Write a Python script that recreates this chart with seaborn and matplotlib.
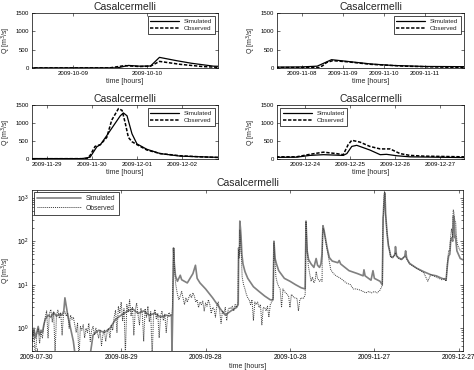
import numpy as np
import pandas as pd
import matplotlib
matplotlib.use("Agg")
import matplotlib.pyplot as plt
import matplotlib.dates as mdates
import seaborn as sns

# ---- data: discharge at Casalcermelli, day offset from 2009-07-30 00:00 ----
START = pd.Timestamp("2009-07-30")

sim_day = [
    -2, -1.5, -1, -0.5, 0, 0.5, 1, 1.5, 2, 2.5,
    3, 4, 5, 6, 7, 8, 9, 9.6, 10, 10.4,
    11, 12, 13, 13.6, 19, 20, 22, 24, 26, 28,
    30, 32, 34, 36, 38, 40, 42, 44, 46, 47,
    47.9, 48.05, 48.35, 48.6, 48.9, 49.3, 50, 51, 51.5, 53.5,
    55.5, 56.4, 57, 58, 60, 62.5, 65.4, 67, 69, 71,
    71.6, 71.75, 71.9, 72.05, 72.17, 72.4, 72.6, 72.9, 73.3, 74,
    75, 77, 79, 81, 83, 84.0, 84.3, 84.7, 85.2, 86,
    88, 90, 92, 94, 95.4, 95.7, 96.1, 96.6, 97.5, 98.5,
    99.3, 99.8, 100.5, 101.0, 101.37, 101.72, 102.1, 102.68, 103.2, 104,
    105, 107, 107.5, 108, 111, 114, 116, 116.3, 116.7, 118.8,
    119.5, 120, 122, 122.78, 122.96, 123.11, 123.19, 123.33, 123.52, 123.63,
    123.70, 123.78, 123.89, 124.0, 124.22, 124.52, 124.96, 125.41, 125.81, 126.5,
    127.3, 127.5, 127.9, 129.6, 130.8, 131.1, 131.5, 132.5, 135, 137.5,
    140, 142, 144, 145.5, 146.0, 146.4, 146.81, 147.11, 147.41, 147.63,
    147.85, 147.93, 148.04, 148.15, 148.44, 148.67, 148.81, 149.04, 149.33, 150.53,
    152,
]
sim_q = [
    0.9, 0.7, 1.0, 0.6, 0.8, 1.1, 0.7, 0.9, 0.8, 1.2,
    1.6, 2.0, 1.8, 2.3, 1.9, 2.1, 2.0, 2.5, 5.0, 3.5,
    2.0, 1.0, 0.5, 0.25, 0.25, 0.7, 0.9, 0.8, 1.0, 1.6,
    2.0, 2.4, 2.8, 2.2, 2.5, 2.0, 2.2, 1.8, 2.0, 1.9,
    2.0, 0.25, 3.0, 70, 30, 16, 12, 16.5, 13, 11,
    18, 28, 14, 11, 8, 5, 2.7, 2.0, 2.5, 3.0,
    3.5, 70, 50, 55, 290, 200, 130, 50, 30, 20,
    14, 9, 7, 5.5, 4.5, 4.5, 100, 40, 30, 21,
    14, 12, 10, 8.5, 8, 290, 60, 38, 30, 25,
    40, 28, 25, 30, 50, 227, 180, 110, 70, 42,
    35, 32, 36, 30, 21, 18, 16, 22, 16, 12.7,
    21, 14, 12, 10, 50, 340, 400, 650, 1000, 1200,
    1280, 1200, 700, 420, 270, 150, 80, 60, 45, 42,
    50, 75, 45, 38, 45, 60, 40, 31, 24, 20,
    17, 16, 14, 13, 30, 46, 50, 100, 120, 110,
    100, 150, 350, 380, 250, 120, 130, 90, 60, 40,
    36,
]

# observed, noisy low-flow part sampled every half day from day -2
obs_early_q = [
    0.8, 0.5, 0.9, 0.2, 0.7, 1.0, 0.45, 0.8, 0.6, 1.1,
    1.8, 2.5, 0.6, 2.2, 2.7, 1.4, 2.4, 0.25, 2.0, 2.6, 1.7, 2.3, 0.7, 2.1,
    2.4, 1.9, 2.2, 1.0, 2.0, 1.6, 1.8,
    1.2, 0.8, 1.3, 0.2, 1.1, 0.9, 1.2, 0.6, 1.0, 0.8, 1.3, 0.5, 0.9, 1.1, 0.7, 1.0,
    0.8, 0.6, 0.9, 0.4, 0.7, 0.9, 0.5, 0.8, 1.0, 0.6, 1.2, 0.9,
    1.8, 2.6, 0.8, 3.2, 2.2, 4.0, 1.5, 2.8, 0.25, 3.5,
    2.4, 4.5, 1.9, 3.0, 0.7, 2.6, 3.8, 2.0, 1.2, 2.9,
    2.2, 0.5, 2.8, 1.8, 3.2, 1.4, 2.4, 0.2, 2.0, 2.7, 1.6,
    2.2, 0.6, 1.9, 2.5, 1.5, 2.1, 0.8, 1.8, 2.3, 2.0,
]
obs_early_day = np.arange(len(obs_early_q)) * 0.5 - 2

obs_day = [
    48.0, 48.2, 48.5, 48.7, 49.0, 49.4, 50, 50.5, 51, 51.5,
    52, 52.5, 53, 53.5, 54, 54.5, 55, 55.5, 56, 56.5,
    57, 57.5, 58, 58.5, 59, 59.5, 60, 60.5, 61, 61.5,
    62, 62.5, 63, 63.5, 64, 64.5, 65, 65.5, 66, 66.5,
    67, 67.5, 68, 68.5, 69, 69.5, 70, 70.5, 71, 71.5,
    71.7, 71.9, 72.05, 72.17, 72.45, 72.75, 73, 73.5, 74, 74.5,
    75, 75.5, 76, 76.5, 77, 77.5, 78, 78.5, 79, 79.5,
    80, 80.5, 81, 81.5, 82, 82.5, 83, 83.5, 84, 84.3,
    84.6, 85, 85.5, 86, 86.5, 87, 87.5, 88, 88.5, 89,
    89.5, 90, 90.5, 91, 91.5, 92, 92.5, 93, 93.5, 94,
    94.5, 95, 95.4, 95.7, 96, 96.5, 97, 97.5, 98, 98.5,
    99, 99.3, 99.8, 100.5, 101, 101.4, 101.5, 101.6, 101.75, 102.1,
    102.68, 103.5, 104.5, 105.5, 106.4, 108, 110, 111.5, 112.5, 113.6,
    115, 116, 117, 118, 119, 120, 121, 122, 122.6, 122.89,
    122.96, 123.07, 123.19, 123.33, 123.44, 123.52, 123.59, 123.67, 123.74, 123.81,
    123.89, 124.0, 124.22, 124.52, 124.96, 125.41, 125.81, 127, 127.5, 128.5,
    129.6, 131, 132.5, 135, 137.5, 139, 140, 142, 144, 145,
    145.5, 146, 146.4, 146.81, 147.11, 147.41, 147.7, 147.85, 147.96, 148.04,
    148.22, 148.44, 148.67, 148.89, 149.11, 149.33, 149.63, 150.53, 152,
]
obs_q = [
    2.0, 3.0, 30, 70, 20, 10, 6, 4.5, 5.5, 7,
    5, 3.5, 5, 4, 5, 6, 5, 6.5, 5.5, 4,
    4.5, 3, 4, 3.5, 4.2, 2.5, 3.8, 3.2, 4.5, 3.5,
    2.2, 3, 2.8, 1.8, 3.3, 4, 2.5, 1.3, 2.5, 2.2,
    3, 1.5, 2.6, 3, 2.8, 3.2, 2.5, 3.5, 3, 4,
    65, 40, 50, 180, 100, 40, 15, 10, 8, 6,
    5, 4.5, 3.5, 4.5, 1.5, 4, 3.5, 4, 3, 3.5,
    1.2, 3, 3, 2.5, 3.2, 1.8, 3.5, 4, 5, 90,
    40, 15, 11, 9, 8, 3, 8, 7, 6.5, 6,
    5.5, 3, 6, 5.5, 5, 5, 4.8, 2.5, 4.5, 5,
    4.8, 5, 6, 280, 90, 28, 18, 12, 15, 11,
    13, 20, 14, 12, 13, 12, 60, 150, 200, 170,
    100, 50, 22, 18, 16, 14, 11, 10, 8, 8,
    7.5, 7, 6.5, 7, 6.5, 7, 6.5, 7.5, 9, 10,
    100, 350, 400, 600, 1080, 1250, 1400, 1350, 1000, 600,
    480, 400, 250, 150, 90, 60, 42, 45, 55, 40,
    38, 45, 30, 24, 19, 12, 17, 15, 13, 14,
    12, 35, 60, 60, 130, 190, 150, 120, 400, 520,
    470, 350, 280, 280, 150, 100, 80, 60, 55,
]

# zoom windows (day offsets) and their date ticks
zoom_windows = [
    (70.45, 72.96, ["2009-10-09", "2009-10-10"], "upper right"),
    (100.39, 104.95, ["2009-11-08", "2009-11-09", "2009-11-10", "2009-11-11"], "upper right"),
    (121.67, 125.80, ["2009-11-29", "2009-11-30", "2009-12-01", "2009-12-02"], "upper right"),
    (146.38, 150.53, ["2009-12-24", "2009-12-25", "2009-12-26", "2009-12-27"], "upper left"),
]
full_ticks = ["2009-07-30", "2009-08-29", "2009-09-28", "2009-10-28", "2009-11-27", "2009-12-27"]

assert len(sim_day) == len(sim_q) and len(obs_day) == len(obs_q)

sim = pd.DataFrame({"time": START + pd.to_timedelta(sim_day, unit="D"), "Q": sim_q})
obs = pd.DataFrame({
    "time": START + pd.to_timedelta(np.concatenate([obs_early_day, obs_day]), unit="D"),
    "Q": np.concatenate([obs_early_q, obs_q]),
})

sns.set_style("ticks")
plt.rcParams["font.family"] = ["Liberation Sans", "DejaVu Sans"]
plt.rcParams["axes.linewidth"] = 0.5

W, H = 474, 370
fig = plt.figure(figsize=(W / 100, H / 100), dpi=100)


def style_axes(ax, labelsize):
    ax.tick_params(which="both", direction="in", top=True, right=True,
                   width=0.4, labelsize=labelsize, pad=2, colors="k")
    ax.tick_params(which="major", length=2)
    ax.tick_params(which="minor", length=1.2)
    for s in ax.spines.values():
        s.set_color("k")
        s.set_linewidth(0.5)


def day(d):
    return START + pd.Timedelta(days=d)


boxes = [
    [32 / W, 1 - 68 / H, 186 / W, 55 / H],
    [277 / W, 1 - 68 / H, 187 / W, 55 / H],
    [32 / W, 1 - 159 / H, 186 / W, 54 / H],
    [277 / W, 1 - 159 / H, 187 / W, 54 / H],
]

for box, (lo, hi, ticks, loc) in zip(boxes, zoom_windows):
    ax = fig.add_axes(box)
    sns.lineplot(data=sim, x="time", y="Q", ax=ax, color="k", lw=0.9,
                 estimator=None, label="Simulated")
    sns.lineplot(data=obs, x="time", y="Q", ax=ax, color="k", lw=1.1,
                 linestyle=(0, (2.2, 1.1)), estimator=None, label="Observed")
    ax.set_xlim(day(lo), day(hi))
    ax.set_ylim(0, 1500)
    ax.set_yticks([0, 500, 1000, 1500])
    ax.set_xticks([pd.Timestamp(t) for t in ticks])
    ax.xaxis.set_major_formatter(mdates.DateFormatter("%Y-%m-%d"))
    style_axes(ax, 4.3)
    ax.set_title("Casalcermelli", fontsize=7.5, pad=2)
    ax.set_xlabel("time [hours]", fontsize=5, labelpad=1.5)
    ax.set_ylabel("Q [m$^3$/s]", fontsize=5, labelpad=2)
    ax.legend(loc=loc, fontsize=4.6, frameon=True, fancybox=False, edgecolor="k",
              framealpha=1, handlelength=4.5, borderpad=0.4, labelspacing=0.2,
              handletextpad=0.8, borderaxespad=0.5).get_frame().set_linewidth(0.5)

# full period, log scale
ax5 = fig.add_axes([32 / W, 1 - 351 / H, 431 / W, 161 / H])
sns.lineplot(data=sim, x="time", y="Q", ax=ax5, color="#808080", lw=1.2,
             estimator=None, label="Simulated")
sns.lineplot(data=obs, x="time", y="Q", ax=ax5, color="#3a3a3a", lw=0.7,
             linestyle=(0, (1, 1)), estimator=None, label="Observed")
ax5.set_yscale("log")
ax5.set_ylim(0.3, 1500)
ax5.set_xlim(day(-1.7), day(151.5))
ax5.set_xticks([pd.Timestamp(t) for t in full_ticks])
ax5.xaxis.set_major_formatter(mdates.DateFormatter("%Y-%m-%d"))
style_axes(ax5, 4.8)
ax5.set_title("Casalcermelli", fontsize=7.5, pad=3)
ax5.set_xlabel("time [hours]", fontsize=5, labelpad=1.5)
ax5.set_ylabel("Q [m$^3$/s]", fontsize=5, labelpad=3)
ax5.legend(loc="upper left", fontsize=4.8, frameon=True, fancybox=False, edgecolor="k",
           framealpha=1, handlelength=6.5, borderpad=0.5, labelspacing=0.35,
           handletextpad=0.8, borderaxespad=0.3).get_frame().set_linewidth(0.5)

fig.savefig("out.png", dpi=100, facecolor="white")
